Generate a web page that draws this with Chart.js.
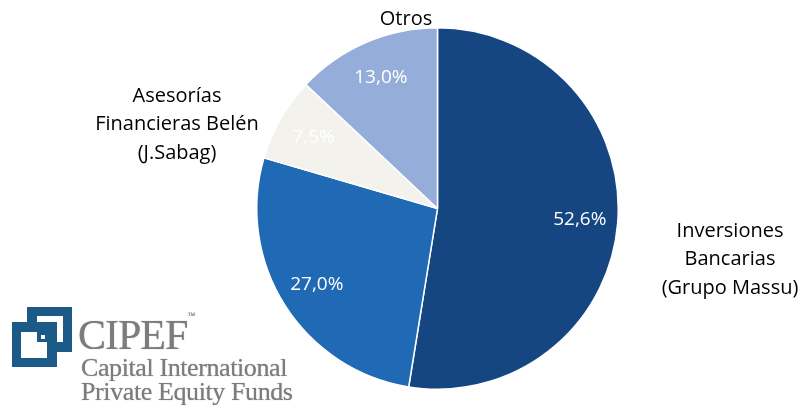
<!DOCTYPE html>
<html>
<head>
<meta charset="utf-8">
<script src="https://cdn.jsdelivr.net/npm/chart.js@4"></script>
<style>
    html, body { margin: 0; padding: 0; background: #fff; }
    #wrap { position: relative; width: 802px; height: 409px; }
    #logo { position: absolute; left: 11px; top: 306px; }
    .logo-text { position: absolute; font-family: "Liberation Serif", "DejaVu Serif", serif; color: #7c7c7c; white-space: nowrap; text-shadow: 0 0 1px #999; }
</style>
</head>
<body>
<div id="wrap">
    <canvas id="pieChart" width="802" height="409"></canvas>
    <svg id="logo" width="64" height="64" viewBox="0 0 64 64">
        <rect x="16" y="1" width="45" height="45" fill="#1c5b87"/>
        <rect x="26" y="10" width="26" height="26" fill="#fff"/>
        <rect x="1" y="16" width="45" height="45" fill="#1c5b87"/>
        <rect x="10" y="26" width="26" height="26" fill="#fff"/>
        <rect x="26" y="16" width="9" height="10" fill="#1c5b87"/>
        <rect x="36" y="26" width="10" height="10" fill="#1c5b87"/>
        <rect x="26" y="26" width="10" height="10" fill="#1c5b87"/>
        <rect x="30" y="29" width="4" height="4" fill="#fff"/>
    </svg>
    <div class="logo-text" style="left:78px; top:311px; font-size:42px; letter-spacing:-1px;">CIPEF<span style="font-size:8px; vertical-align:top;">™</span></div>
    <div class="logo-text" style="left:81px; top:353px; font-size:26px; letter-spacing:-0.4px;">Capital International</div>
    <div class="logo-text" style="left:81px; top:377px; font-size:26px; letter-spacing:-0.4px;">Private Equity Funds</div>
</div>
<script>
// Data
const labels = ['Inversiones Bancarias (Grupo Massu)', '', 'Asesorías Financieras Belén (J.Sabag)', 'Otros'];
const values = [52.6, 27.0, 7.5, 13.0];
const valueLabels = ['52,6%', '27,0%', '7,5%', '13,0%'];
const colors = ['#154682', '#2069b5', '#f3f2ec', '#95aed9'];

// Category names drawn beside the pie
const outerLabels = [
    { lines: ['Inversiones', 'Bancarias', '(Grupo Massu)'], x: 730, y: 231 },
    { lines: ['Asesorías', 'Financieras Belén', '(J.Sabag)'], x: 177, y: 96 },
    { lines: ['Otros'], x: 406, y: 19 }
];

const FONT = '"Open Sans", "Noto Sans", sans-serif';

const labelPlugin = {
    id: 'pieLabels',
    afterDatasetsDraw(chart) {
        const ctx = chart.ctx;
        const meta = chart.getDatasetMeta(0);
        ctx.save();
        ctx.textAlign = 'center';
        ctx.textBaseline = 'middle';

        // percentages inside slices
        ctx.font = '19px ' + FONT;
        meta.data.forEach((arc, i) => {
            const mid = (arc.startAngle + arc.endAngle) / 2;
            const r = arc.outerRadius * 0.79;
            const x = arc.x + Math.cos(mid) * r;
            const y = arc.y + Math.sin(mid) * r;
            ctx.fillStyle = '#ffffff';
            ctx.fillText(valueLabels[i], x, y);
        });

        // category names
        ctx.font = '20px ' + FONT;
        ctx.fillStyle = '#000000';
        outerLabels.forEach(l => {
            l.lines.forEach((line, j) => {
                ctx.fillText(line, l.x, l.y + j * 28.5);
            });
        });
        ctx.restore();
    }
};

new Chart(document.getElementById('pieChart'), {
    type: 'pie',
    data: {
        labels: labels,
        datasets: [{
            data: values,
            backgroundColor: colors,
            borderColor: '#ffffff',
            borderWidth: 1.5
        }]
    },
    options: {
        responsive: false,
        animation: false,
        layout: { padding: { top: 27, bottom: 19, left: 256, right: 183 } },
        plugins: {
            legend: { display: false },
            tooltip: { enabled: false }
        }
    },
    plugins: [labelPlugin]
});
</script>
</body>
</html>
